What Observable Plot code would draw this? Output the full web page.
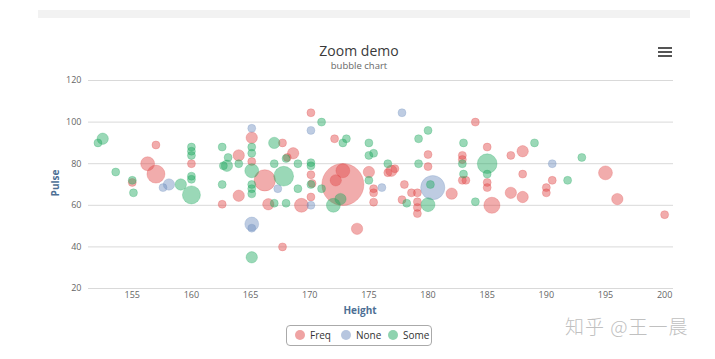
<!DOCTYPE html>
<html><head><meta charset="utf-8">
<script src="https://cdn.jsdelivr.net/npm/d3@7"></script>
<script src="https://cdn.jsdelivr.net/npm/@observablehq/plot@0.6"></script>
<style>
body{margin:0;background:#fff;font-family:"Open Sans",sans-serif;}
#wrap{position:relative;width:715px;height:359px;overflow:hidden;background:#fff;}
#strip{position:absolute;left:38px;top:10px;width:652px;height:8px;background:#f2f2f2;}
#title{position:absolute;left:0;width:718px;top:43px;height:16px;line-height:16px;text-align:center;font-size:14px;color:#3a3a3a;}
#subtitle{position:absolute;left:0;width:718px;top:60px;height:11px;line-height:11px;text-align:center;font-size:9.5px;color:#666;}
#menu{position:absolute;left:658px;top:47px;width:14px;}
#menu div{height:2px;background:#555;margin-bottom:2px;}
#chart{position:absolute;left:0;top:0;}
#ylab{position:absolute;left:55px;top:183px;transform:translate(-50%,-50%) rotate(-90deg);font-size:10px;font-weight:bold;color:#4d6f94;}
#xlab{position:absolute;left:360px;top:303px;transform:translateX(-50%);font-size:10px;font-weight:bold;color:#4d6f94;}
#legend{position:absolute;left:286px;top:325px;width:144px;height:19px;border:1px solid #aaa;border-radius:4px;font-size:10px;color:#333;}
.li{position:absolute;top:3px;line-height:13px;}
.sw{display:inline-block;width:10px;height:10px;border-radius:50%;vertical-align:-1px;margin-right:5px;}
#wm{position:absolute;left:565px;top:312px;font-size:19px;color:#c0c0c0;font-family:"Noto Sans CJK SC",sans-serif;font-weight:300;letter-spacing:1px;}
</style></head><body>
<div id="wrap">
<div id="strip"></div>
<div id="chart"></div>
<div id="title">Zoom demo</div>
<div id="subtitle">bubble chart</div>
<div id="menu"><div></div><div></div><div></div></div>
<div id="ylab">Pulse</div>
<div id="xlab">Height</div>
<div id="legend"></div>
<div id="wm">知乎 @王一晨</div>
</div>
<script>
const seriesNames = ["Freq", "None", "Some"];
const seriesColors = ["#e04848", "#6f8ebf", "#1fa860"];

const freqHeight = [157.0,156.3,157.0,155.0,160.0,162.6,164.0,164.0,165.1,165.1,166.2,166.5,167.7,167.7,168.6,168.1,169.3,170.1,170.1,170.2,170.1,172.1,172.8,172.8,172.2,174.0,175.0,175.4,175.4,175.4,176.9,176.6,177.2,178.0,178.6,179.1,177.8,179.1,179.1,179.1,180.0,180.0,182.0,182.9,182.9,182.9,183.2,184.0,185.0,185.0,185.0,185.4,187.0,188.0,188.0,187.0,188.0,190.0,190.0,190.5,195.0,196.0,200.0];
const freqPulse  = [89,80,75,71,80,60.5,84,64.6,92.5,81,72,60.5,90,40,85,83,60,104.5,74.7,70.5,64,92,70,76.6,72,48.7,76,68,66,61.5,76.6,75.7,77.6,70,66,66,62.7,61.7,59,56,84.4,78.6,65.6,84,82,72,72,100,88,71,68.5,60,84,86,75,66,64,68.5,66,72,75.6,63,55.5];
const freqSize   = [1,3,5,1,1,1,2,2,2,1,7,2,1,1,2,1,3,1,1,1,1,1,27,3,2,2,2,1,1,1,2,1,1,1,1,1,1,1,1,1,1,1,2,1,1,1,1,1,1,1,1,4,1,2,1,2,2,1,1,1,3,2,1];

const noneHeight = [157.6,158.1,165.1,165.1,165.1,167.3,170.1,170.1,176.1,177.8,180.4,190.5];
const nonePulse  = [68.5,70,97,51,49,68,96,60,68.5,104.5,68.5,80];
const noneSize   = [1,2,1,3,1,1,1,1,1,1,9,1];

const someHeight = [152.5,152.1,153.6,155.0,155.1,159.1,160.0,160.0,160.0,160.0,160.0,160.0,162.6,163.1,163.0,162.7,162.6,164.0,165.1,165.1,165.1,165.1,165.1,165.1,165.1,167.0,167.8,167.0,167.0,168.0,169.0,169.0,168.0,170.1,170.1,170.1,171.0,171.0,173.1,172.8,172.0,172.6,175.0,175.0,175.4,175.0,176.6,179.2,180.0,179.2,178.2,180.0,180.2,182.9,183.0,183.0,184.0,185.0,185.0,189.0,191.8,193.0];
const somePulse  = [92,90,76,72,66,70,65,88,86,84,74,72.5,88,83,79,79,70,80,88,85,76.6,70,68,65.5,35,90,74,80,61,82.5,80,68,61,80.5,79,70,100,68,92,90,60,63,90,84,85,72,80,92,96,80,61,60.3,70,80,90,75,61.7,80,75,90,72,83];
const someSize   = [2,1,1,1,1,2,5,1,1,1,1,1,1,1,2,1,1,1,1,1,3,1,1,1,2,2,6,1,1,1,1,1,1,1,1,1,1,1,1,1,3,2,1,1,1,1,1,1,1,1,1,3,1,1,1,1,1,6,1,1,1,1];

const xTicks = [155,160,165,170,175,180,185,190,195,200];
const yTicks = [20,40,60,80,100,120];

function build(name, hs, ps, zs) {
  return hs.map((h, i) => ({exer: name, height: h, pulse: ps[i], size: zs[i]}));
}
const data = [
  ...build("Freq", freqHeight, freqPulse, freqSize),
  ...build("None", noneHeight, nonePulse, noneSize),
  ...build("Some", someHeight, somePulse, someSize)
];

const chart = Plot.plot({
  width: 715,
  height: 359,
  marginLeft: 88,
  marginRight: 42,
  marginTop: 80,
  marginBottom: 71,
  style: {fontFamily: "Open Sans, sans-serif", fontSize: "9px", color: "#666", background: "transparent"},
  x: {domain: [151.3, 200.75], label: null},
  y: {domain: [20, 120], label: null},
  r: {type: "sqrt", domain: [1, 27], range: [4, 21]},
  color: {domain: seriesNames, range: seriesColors},
  marks: [
    Plot.gridY(yTicks, {stroke: "#d9d9d9", strokeOpacity: 1}),
    Plot.axisY(yTicks, {tickSize: 0, tickPadding: 7, label: null, fill: "#666"}),
    Plot.axisX(xTicks, {tickSize: 0, tickPadding: 3, label: null, fill: "#666"}),
    Plot.dot(data, {x: "height", y: "pulse", r: "size", fill: "exer", fillOpacity: 0.45, stroke: "exer", strokeOpacity: 0.25, strokeWidth: 1, sort: null})
  ]
});
document.getElementById("chart").appendChild(chart);

const legend = document.getElementById("legend");
const lx = [8, 54, 101];
seriesNames.forEach((n, i) => {
  const d = document.createElement("div");
  d.className = "li";
  d.style.left = lx[i] + "px";
  d.innerHTML = `<span class="sw" style="background:${seriesColors[i]};opacity:0.5"></span>${n}`;
  legend.appendChild(d);
});
</script>
</body></html>
